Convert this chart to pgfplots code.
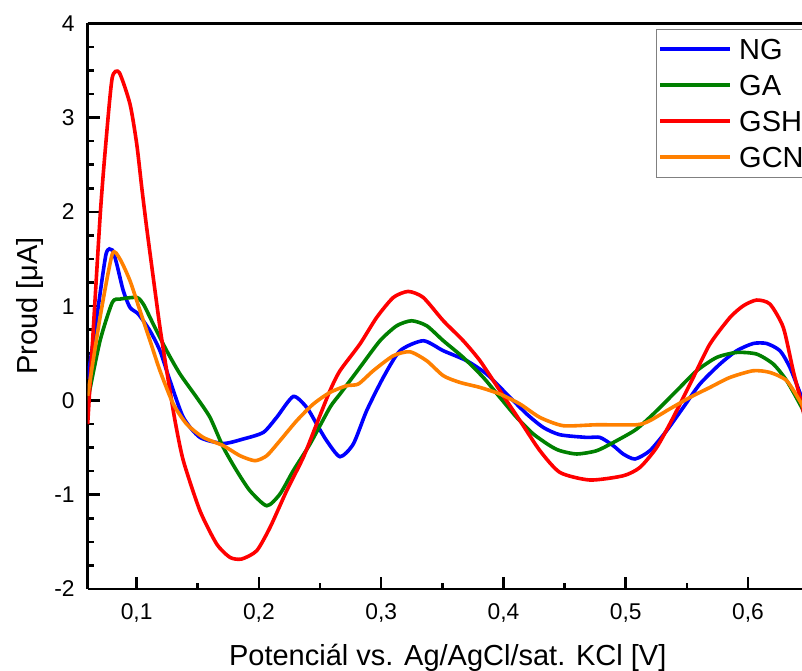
\documentclass[border=0pt]{standalone}
\usepackage{fontspec}
\setmainfont{Liberation Sans}
\usepackage{pgfplots}
\pgfplotsset{compat=1.18}
\definecolor{cblue}{RGB}{0,0,255}
\definecolor{cgreen}{RGB}{0,128,0}
\definecolor{cred}{RGB}{255,0,0}
\definecolor{corange}{RGB}{255,128,0}
\newcommand{\legtxt}[1]{\makebox[60pt][l]{#1}}
\begin{document}
\begin{tikzpicture}
\begin{axis}[
  scale only axis, width=357.15pt, height=282.85pt,
  xmin=0.06, xmax=0.6441, ymin=-2, ymax=4,
  axis y line*=left,
  tick pos=left, tick align=inside,
  xtick={0.1,0.2,0.3,0.4,0.5,0.6},
  ytick={-2,-1,0,1,2,3,4},
  minor x tick num=1, minor y tick num=3,
  major tick length=6pt, minor tick length=3pt,
  every tick/.style={black, line width=1.3pt},
  axis line style={line width=1.35pt},
  /pgf/number format/assume math mode=true,
  /pgf/number format/use comma,
  /pgf/number format/fixed,
  tick label style={font=\fontsize{11.4}{13}\selectfont},
  xticklabel style={anchor=base, yshift=-15.3pt},
  yticklabel style={anchor=east, xshift=-3.0pt},
  xlabel={Potenciál vs. Ag/AgCl/sat. KCl [V]},
  ylabel={Proud [μA]},
  every axis x label/.style={at={(axis description cs:0.504,-0.1356)}, anchor=base, font=\fontsize{14.5}{17}\selectfont},
  every axis y label/.style={at={(axis description cs:-0.0696,0.5)}, rotate=90, anchor=base, font=\fontsize{14.5}{17}\selectfont},
  legend style={at={(rel axis cs:0.7956,0.9905)}, anchor=north west,
    draw=gray, line width=0.6pt, fill=white,
    font=\fontsize{14.5}{17}\selectfont,
    inner xsep=1pt, inner ysep=4.8pt,
    row sep=7.6pt, column sep=3.5pt,
    nodes={inner sep=0pt, text height=10.4pt, text depth=0pt},
    cells={anchor=west}},
  legend image code/.code={\draw[#1] (0pt,0pt) -- (35pt,0pt);},
  legend cell align=left,
  clip=true,
]
\addplot[cblue, line width=1.8pt, smooth, tension=0.4] coordinates {
(0.0600,0.230)(0.0674,0.880)(0.0750,1.552)(0.0801,1.595)(0.0837,1.450)
(0.0891,1.163)(0.0946,0.986)(0.1014,0.916)(0.1109,0.739)(0.1191,0.527)
(0.1273,0.209)(0.1382,-0.180)(0.1518,-0.392)(0.1709,-0.456)(0.1872,-0.409)
(0.2036,-0.339)(0.2145,-0.180)(0.2281,0.042)(0.2391,-0.074)(0.2472,-0.250)
(0.2554,-0.427)(0.2663,-0.597)(0.2772,-0.462)(0.2881,-0.109)(0.3017,0.244)
(0.3154,0.527)(0.3344,0.633)(0.3508,0.527)(0.3699,0.421)(0.3862,0.280)
(0.4026,0.068)(0.4190,-0.144)(0.4325,-0.286)(0.4462,-0.364)(0.4680,-0.392)
(0.4789,-0.392)(0.4898,-0.480)(0.4979,-0.568)(0.5075,-0.621)(0.5197,-0.533)
(0.5334,-0.321)(0.5470,-0.074)(0.5606,0.174)(0.5770,0.386)(0.5907,0.527)
(0.6042,0.604)(0.6152,0.604)(0.6261,0.527)(0.6342,0.350)(0.6438,0.032)(0.6480,-0.15)
};
\addlegendentry{\legtxt{NG}}
\addplot[cgreen, line width=1.8pt, smooth, tension=0.4] coordinates {
(0.0600,0.000)(0.0701,0.633)(0.0801,1.039)(0.0864,1.075)(0.1001,1.092)
(0.1055,1.022)(0.1136,0.810)(0.1246,0.527)(0.1355,0.280)(0.1491,0.032)
(0.1600,-0.180)(0.1709,-0.498)(0.1818,-0.745)(0.1927,-0.958)(0.2064,-1.117)
(0.2172,-0.993)(0.2281,-0.745)(0.2418,-0.462)(0.2581,-0.074)(0.2663,0.068)
(0.2826,0.350)(0.2990,0.633)(0.3127,0.792)(0.3249,0.845)(0.3372,0.792)
(0.3508,0.633)(0.3671,0.456)(0.3835,0.244)(0.3971,0.032)(0.4108,-0.180)
(0.4244,-0.356)(0.4380,-0.480)(0.4462,-0.533)(0.4598,-0.568)(0.4762,-0.533)
(0.4925,-0.427)(0.5089,-0.303)(0.5253,-0.109)(0.5416,0.103)(0.5580,0.315)
(0.5743,0.456)(0.5907,0.509)(0.6070,0.492)(0.6206,0.386)(0.6316,0.209)
(0.6438,-0.074)(0.6480,-0.20)
};
\addlegendentry{\legtxt{GA}}
\addplot[cred, line width=1.8pt, smooth, tension=0.4] coordinates {
(0.0600,-0.250)(0.0701,1.941)(0.0755,2.828)(0.0801,3.425)(0.0858,3.478)
(0.0946,3.143)(0.1001,2.719)(0.1042,2.259)(0.1082,1.835)
(0.1136,1.304)(0.1191,0.774)(0.1246,0.315)(0.1314,-0.215)(0.1382,-0.639)
(0.1518,-1.170)(0.1655,-1.523)(0.1764,-1.665)(0.1859,-1.682)(0.1982,-1.594)
(0.2091,-1.347)(0.2227,-0.958)(0.2363,-0.604)(0.2472,-0.250)(0.2581,0.103)
(0.2663,0.315)(0.2826,0.598)(0.2963,0.880)(0.3099,1.092)(0.3221,1.156)
(0.3344,1.092)(0.3508,0.845)(0.3671,0.633)(0.3808,0.421)(0.3971,0.103)
(0.4135,-0.215)(0.4298,-0.533)(0.4462,-0.764)(0.4707,-0.844)(0.4979,-0.799)
(0.5116,-0.710)(0.5253,-0.498)(0.5388,-0.180)(0.5552,0.244)(0.5688,0.598)
(0.5852,0.880)(0.5961,1.004)(0.6070,1.065)(0.6179,1.022)(0.6288,0.774)
(0.6369,0.315)(0.6438,-0.038)(0.6480,-0.30)
};
\addlegendentry{\legtxt{GSH}}
\addplot[corange, line width=1.8pt, smooth, tension=0.4] coordinates {
(0.0600,0.050)(0.0701,0.880)(0.0801,1.552)(0.0864,1.499)(0.0946,1.269)
(0.1028,0.951)(0.1110,0.633)(0.1191,0.315)(0.1300,-0.038)(0.1409,-0.250)
(0.1545,-0.392)(0.1709,-0.480)(0.1845,-0.586)(0.1968,-0.639)(0.2064,-0.586)
(0.2172,-0.427)(0.2309,-0.215)(0.2445,-0.038)(0.2581,0.085)(0.2718,0.156)
(0.2813,0.174)(0.2935,0.315)(0.3099,0.474)(0.3235,0.516)(0.3372,0.421)
(0.3508,0.262)(0.3644,0.191)(0.3808,0.138)(0.3971,0.068)(0.4135,-0.038)
(0.4298,-0.180)(0.4489,-0.268)(0.4762,-0.258)(0.5089,-0.258)(0.5196,-0.215)
(0.5358,-0.091)(0.5525,0.032)(0.5688,0.138)(0.5852,0.244)(0.6042,0.315)
(0.6179,0.297)(0.6316,0.209)(0.6438,-0.038)(0.6480,-0.15)
};
\addlegendentry{\legtxt{GCN}}
\coordinate (sw) at (rel axis cs:0,0);
\end{axis}
\pgfresetboundingbox
\path ([shift={(-43.85pt,-40.5pt)}]sw) rectangle ([shift={(357.15pt,294.5pt)}]sw);
\end{tikzpicture}
\end{document}
